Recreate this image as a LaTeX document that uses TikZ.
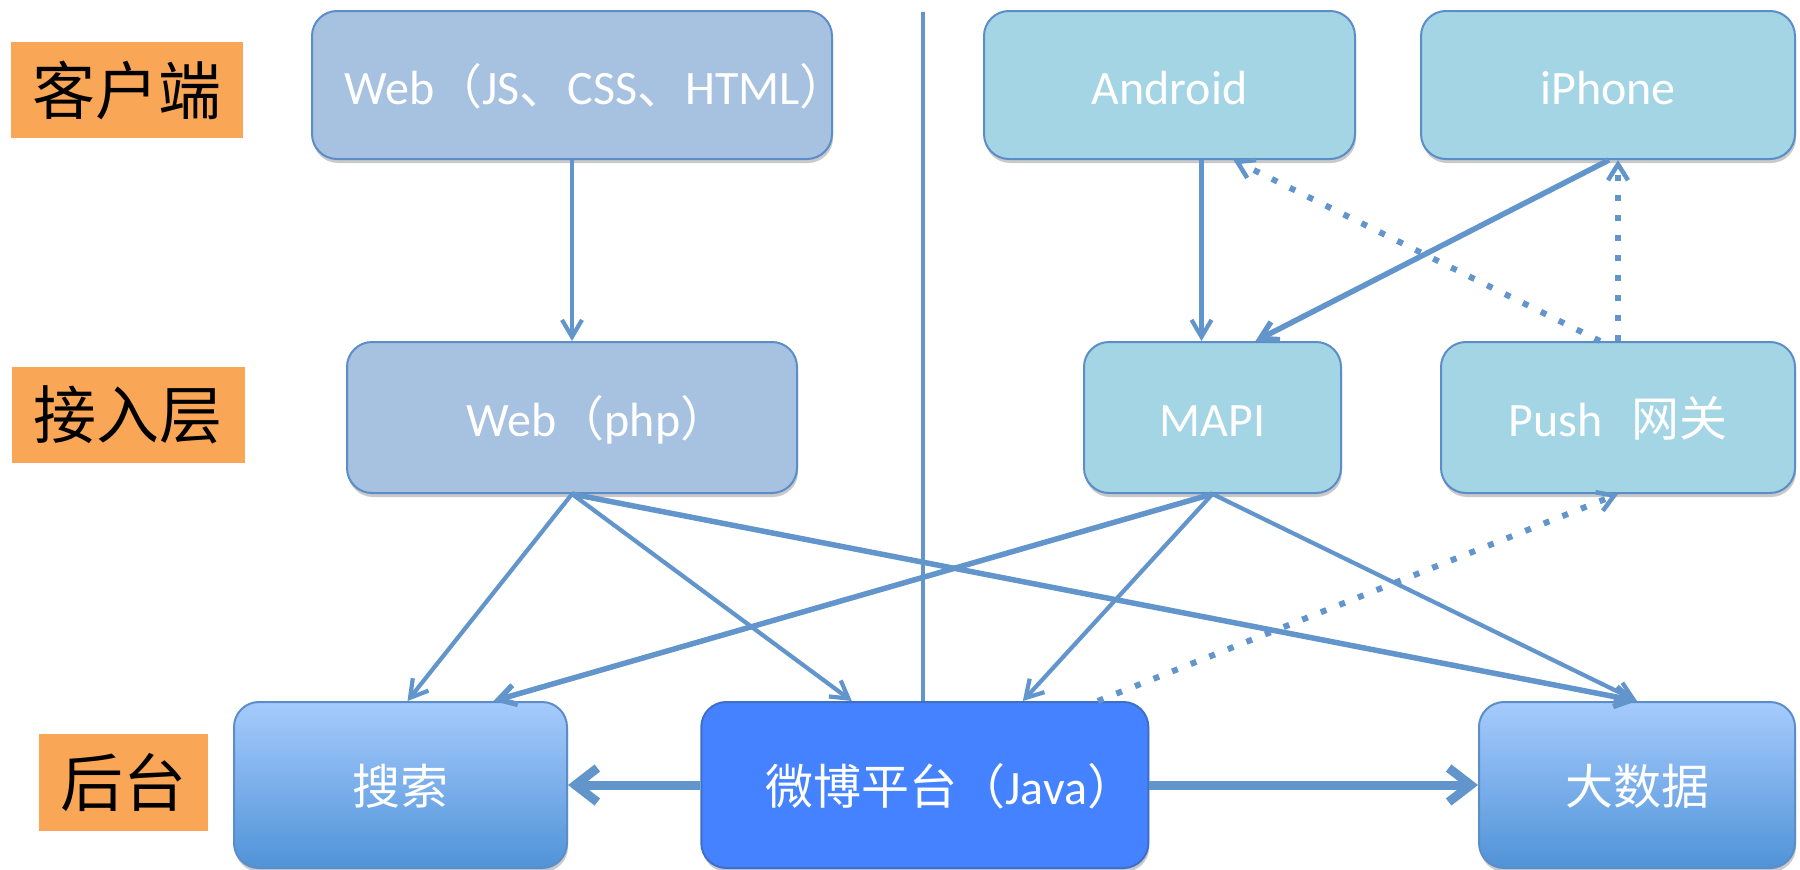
\documentclass[tikz,border=0pt]{standalone}
\usepackage{fontspec}
\setmainfont{Carlito}
\newfontfamily\song{Noto Sans CJK SC}
\usetikzlibrary{arrows.meta,shadows}
\definecolor{lboxc}{HTML}{A7C1E0}
\definecolor{cboxc}{HTML}{A4D5E4}
\definecolor{bordc}{HTML}{5B8DC9}
\definecolor{arrowc}{HTML}{6195CB}
\definecolor{orangec}{HTML}{F9A656}
\definecolor{weiboc}{HTML}{4482FF}
\definecolor{weibobord}{HTML}{3E70C8}
\definecolor{gtop}{HTML}{A6CBFD}
\definecolor{gbot}{HTML}{5093D8}
\tikzset{
  box/.style={rectangle, rounded corners=25pt, draw=bordc, line width=2pt, text=white,
    inner sep=0pt, font=\fontsize{48}{52}\selectfont, text height=43pt, text depth=5pt,
    drop shadow={shadow xshift=1pt, shadow yshift=-4pt, opacity=0.3, fill=black!70}},
  layerlabel/.style={rectangle, fill=orangec, inner sep=0pt, text=black,
    font=\song\fontsize{63}{66}\selectfont},
  conn/.style={draw=arrowc, line width=4.2pt, -{Straight Barb[length=17pt,width=20pt]}},
  connthick/.style={conn, line width=5.5pt},
  dotconn/.style={draw=arrowc, line width=6pt, dash pattern=on 6pt off 14pt,
    -{Straight Barb[length=16pt,width=20pt,line width=4.5pt]}},
  bigconn/.style={draw=arrowc, line width=9pt, -{Straight Barb[length=22pt,width=34pt]}},
  sepline/.style={draw=arrowc, line width=4.5pt}
}
\begin{document}
\begin{tikzpicture}[x=1pt,y=-1pt]
\useasboundingbox (0,0) rectangle (1800,870);
% layer labels
\node[layerlabel, minimum width=232pt, minimum height=96pt] (l1) at (127,90) {客户端};
\node[layerlabel, minimum width=233pt, minimum height=96pt] (l2) at (128.5,415) {接入层};
\node[layerlabel, minimum width=169pt, minimum height=97pt] (l3) at (123.5,782.5) {后台};
% boxes
\node[box, fill=lboxc, minimum width=520pt, minimum height=148pt] (webjs) at (572,85)
  {\makebox[0pt]{\hspace*{48pt}Web{\song （}JS{\song 、}CSS{\song 、}HTML{\song ）}}};
\node[box, fill=cboxc, minimum width=371pt, minimum height=148pt] (android) at (1169.5,85) {Android};
\node[box, fill=cboxc, minimum width=374pt, minimum height=148pt] (iphone) at (1608,85) {iPhone};
\node[box, fill=lboxc, minimum width=450pt, minimum height=151pt] (webphp) at (572,417.5)
  {\makebox[0pt]{\hspace*{51pt}Web{\song （}php{\song ）}}};
\node[box, fill=cboxc, minimum width=257pt, minimum height=151pt] (mapi) at (1212.5,417.5) {MAPI};
\node[box, fill=cboxc, minimum width=354pt, minimum height=151pt] (push) at (1618,417.5)
  {Push\hspace{0.6em}{\song 网关}};
\node[box, top color=gtop, bottom color=gbot, minimum width=333pt, minimum height=166pt] (sousuo) at (400.5,785)
  {\song 搜索};
\node[box, fill=weiboc, draw=weibobord, minimum width=447pt, minimum height=166pt] (weibo) at (924.8,785)
  {\makebox[0pt]{\hspace*{51pt}{\song 微博平台（}Java{\song ）}}};
\node[box, top color=gtop, bottom color=gbot, minimum width=316pt, minimum height=166pt] (dashuju) at (1637,785)
  {\song 大数据};
% separator
\coordinate (septop) at (923,12);
\draw[sepline] (septop) -- (septop |- weibo.north);
% connectors
\draw[conn] (webjs.south) -- (webphp.north);
\draw[conn] ([xshift=32pt]android.south) -- ([xshift=32pt]android.south |- mapi.north);
\draw[connthick] ([xshift=1pt]iphone.south) -- ([xshift=43pt]mapi.north);
\draw[dotconn] (push.north) -- (push.north |- iphone.south);
\draw[dotconn] ([xshift=-18pt]push.north) -- ([xshift=64pt]android.south);
\draw[conn] (webphp.south) -- ([xshift=7pt]sousuo.north);
\draw[conn] (webphp.south) -- ([xshift=-73pt]weibo.north);
\draw[connthick] (webphp.south) -- (dashuju.north);
\draw[connthick] (mapi.south) -- ([xshift=93pt]sousuo.north);
\draw[conn] (mapi.south) -- ([xshift=98pt]weibo.north);
\draw[conn] (mapi.south) -- (dashuju.north);
\draw[dotconn] ([xshift=173pt]weibo.north) -- (push.south);
\draw[bigconn] (weibo.west) -- (sousuo.east);
\draw[bigconn] (weibo.east) -- (dashuju.west);
\end{tikzpicture}
\end{document}
